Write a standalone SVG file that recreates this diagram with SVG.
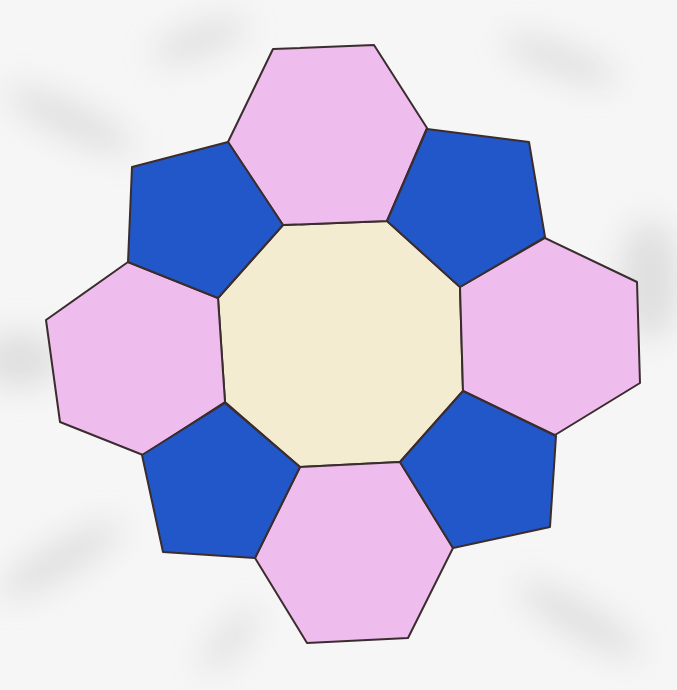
<svg xmlns="http://www.w3.org/2000/svg" width="677" height="690" viewBox="0 0 677 690">
<defs>
<filter id="blur" x="-50%" y="-50%" width="200%" height="200%"><feGaussianBlur stdDeviation="16"/></filter>
<style>
.tile{stroke:#3b2c2e;stroke-width:2;stroke-linejoin:round}
.pink{fill:#efbcee}
.blue{fill:#2257c9}
.cream{fill:#f4ecd0}
</style>
</defs>
<rect width="677" height="690" fill="#f6f6f6"/>
<g filter="url(#blur)" fill="#cfcfcf" opacity="0.6">
<ellipse cx="20" cy="360" rx="40" ry="28"/>
<ellipse cx="70" cy="120" rx="70" ry="16" transform="rotate(25 70 120)"/>
<ellipse cx="200" cy="40" rx="50" ry="14" transform="rotate(-20 200 40)"/>
<ellipse cx="560" cy="60" rx="60" ry="14" transform="rotate(20 560 60)"/>
<ellipse cx="650" cy="280" rx="30" ry="60"/>
<ellipse cx="60" cy="560" rx="70" ry="16" transform="rotate(-30 60 560)"/>
<ellipse cx="580" cy="620" rx="70" ry="16" transform="rotate(30 580 620)"/>
<ellipse cx="230" cy="640" rx="40" ry="12" transform="rotate(-50 230 640)"/>
</g>
<g id="octagon"><polygon class="tile cream" points="283,225 387,221 460,287 463,391 400,462 300,467 225,402 218,298"/></g>
<g id="hex-top"><polygon class="tile pink" points="273,49 374,45 427,128 387,221 283,225 228,142"/></g>
<g id="hex-right"><polygon class="tile pink" points="545,238 637,282 640,383 555,435 463,391 460,287"/></g>
<g id="hex-bottom"><polygon class="tile pink" points="300,467 400,462 453,548 408,638 307,643 255,558"/></g>
<g id="hex-left"><polygon class="tile pink" points="128,262 218,298 225,402 143,455 60,422 46,320"/></g>
<g id="pent-topleft"><polygon class="tile blue" points="132,167 228,142 283,225 218,298 128,262"/></g>
<g id="pent-topright"><polygon class="tile blue" points="427,129 529,142 545,237 460,287 387,221"/></g>
<g id="pent-bottomright"><polygon class="tile blue" points="400,462 463,391 556,436 550,527 453,548"/></g>
<g id="pent-bottomleft"><polygon class="tile blue" points="142,455 225,403 300,467 255,558 163,552"/></g>
</svg>
